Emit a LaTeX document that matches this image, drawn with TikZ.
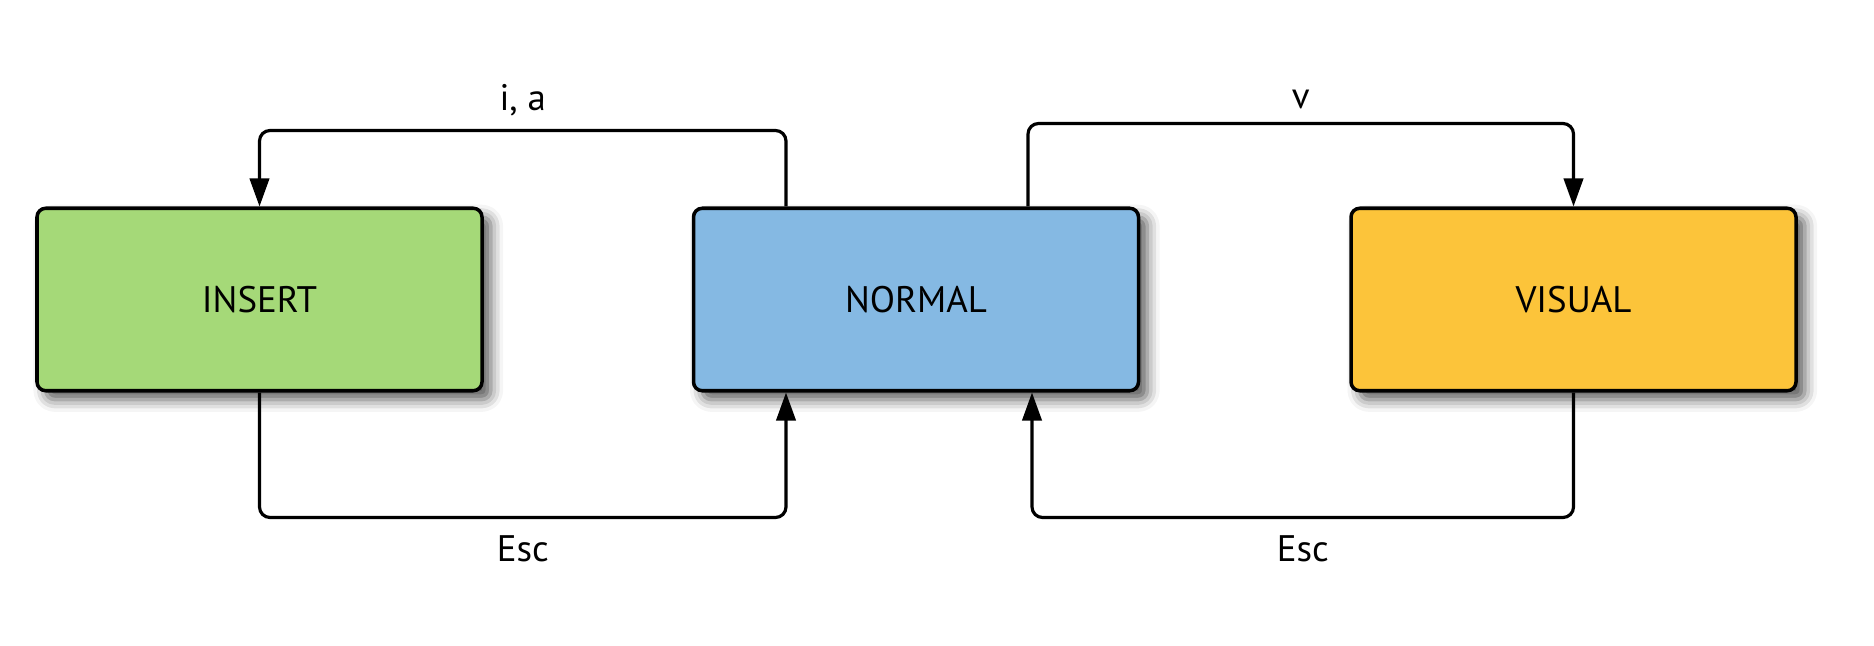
\documentclass[tikz,border=0pt]{standalone}
\usepackage{fontspec}
\setmainfont{PT Sans}
\usetikzlibrary{arrows.meta,shadows.blur}
\definecolor{insertgreen}{RGB}{165,217,120}
\definecolor{normalblue}{RGB}{133,185,227}
\definecolor{visualyellow}{RGB}{252,196,58}
\begin{document}
\begin{tikzpicture}[>={Triangle[length=16pt,width=11pt]},line join=round,font=\fontsize{21}{25}\selectfont,
		mode/.style={draw,line width=2pt,rounded corners=5pt,minimum width=8.9cm,minimum height=3.65cm,
			blur shadow={shadow xshift=5pt,shadow yshift=-5pt,shadow blur radius=7pt,shadow opacity=65}},
		link/.style={->,line width=1.8pt,rounded corners=6pt}]
	\useasboundingbox (0,0) rectangle (37.48,12.9);
	\node[mode,fill=insertgreen] (insert) at (5.19,6.91) {INSERT};
	\node[mode,fill=normalblue] (normal) at (18.32,6.91) {NORMAL};
	\node[mode,fill=visualyellow] (visual) at (31.47,6.91) {VISUAL};
	\draw[link] ([xshift=-2.6cm]normal.north) -- ++(0,1.52) -| node[pos=0.25,above=4pt] {i, a} (insert.north);
	\draw[link] ([xshift=2.24cm]normal.north) -- ++(0,1.66) -| node[pos=0.25,above=4pt] {v} (visual.north);
	\draw[link] (insert.south) -- ++(0,-2.5) -| node[pos=0.25,below=6pt] {Esc} ([xshift=-2.6cm]normal.south);
	\draw[link] (visual.south) -- ++(0,-2.5) -| node[pos=0.25,below=6pt] {Esc} ([xshift=2.32cm]normal.south);
\end{tikzpicture}
\end{document}
